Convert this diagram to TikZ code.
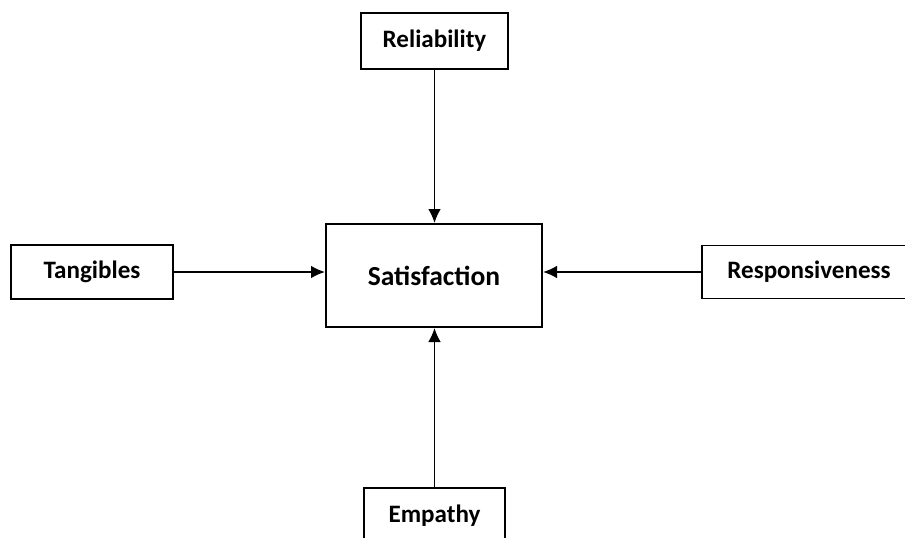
\documentclass[tikz,border=0pt]{standalone}
\usepackage{fontspec}
\setmainfont{Carlito}
\usetikzlibrary{arrows.meta}

\begin{document}
\begin{tikzpicture}[x=0.03cm,y=-0.03cm,
  box/.style={draw,line width=1.7pt,fill=white,inner sep=0pt,font=\bfseries\fontsize{21.4}{25}\selectfont},
  link/.style={line width=1.4pt,-{Latex[length=4.2mm,width=3.8mm]}}]
\clip (0,0) rectangle (905,537);
\fill[white] (0,0) rectangle (905,537);
\node[box,minimum width=6.48cm,minimum height=3.09cm,font=\bfseries\fontsize{23.5}{28}\selectfont] (sat) at (434,275.5) {Satisfaction};
\node[box,minimum width=4.41cm,minimum height=1.68cm] (rel) at (434.5,41) {Reliability};
\node[box,minimum width=4.86cm,minimum height=1.62cm] (tan) at (92,272) {Tangibles};
\node[box,minimum width=6.42cm,minimum height=1.59cm] (res) at (809,272) {Responsiveness};
\node[box,minimum width=4.23cm,minimum height=1.65cm] (emp) at (434.5,515.5) {Empathy};
% arrows into satisfaction
\draw[link] (rel.south) -- (rel.south |- sat.north);
\draw[link] (tan.east) -- (tan.east -| sat.west);
\draw[link] (res.west) -- (res.west -| sat.east);
\draw[link] (emp.north) -- (emp.north |- sat.south);
\end{tikzpicture}
\end{document}
